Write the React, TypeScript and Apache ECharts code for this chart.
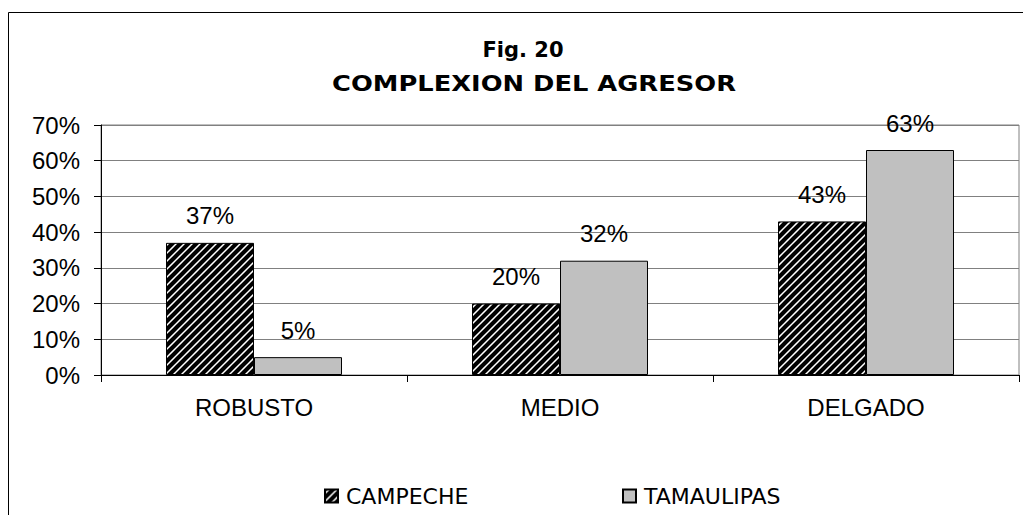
import React, { useEffect, useRef } from "react";
import * as echarts from "echarts";

const categories = ["ROBUSTO", "MEDIO", "DELGADO"];
const campeche = [37, 20, 43];
const tamaulipas = [5, 32, 63];
const seriesNames = ["CAMPECHE", "TAMAULIPAS"];
const titleLines = ["Fig. 20", "COMPLEXION DEL AGRESOR"];

const hatchSvg =
  "data:image/svg+xml;charset=utf-8," +
  encodeURIComponent(
    "<svg xmlns='http://www.w3.org/2000/svg' width='8' height='8'>" +
      "<rect width='8' height='8' fill='white'/>" +
      "<path d='M-2,2 L2,-2 M0,8 L8,0 M6,10 L10,6' stroke='black' stroke-width='4.1'/>" +
      "</svg>"
  );

export default function App() {
  const ref = useRef<HTMLDivElement>(null);
  useEffect(() => {
    if (!ref.current) return;
    const chart = echarts.init(ref.current, null, { renderer: "svg" });
    const hatch: any = {
      image: hatchSvg,
      repeat: "repeat",
      imageWidth: 8,
      imageHeight: 8,
    };
    const labelStyle = {
      show: true,
      position: "top" as const,
      distance: 15,
      formatter: "{c}%",
      color: "#000",
      fontSize: 24,
      fontFamily: "Liberation Sans",
    };
    const legendBase = {
      orient: "horizontal" as const,
      top: 480,
      icon: "rect",
      itemWidth: 13,
      itemHeight: 13,
      itemGap: 0,
      selectedMode: false,
      textStyle: {
        color: "#000",
        fontSize: 22,
        fontFamily: "DejaVu Sans",
        padding: [0, 0, 0, 3],
      },
    };
    chart.setOption({
      animation: false,
      backgroundColor: "#fff",
      grid: {
        left: 101,
        right: 4,
        top: 125,
        bottom: 140,
        show: true,
        borderColor: "#808080",
        borderWidth: 1,
        containLabel: false,
      },
      legend: [
        { ...legendBase, left: 319, data: [seriesNames[0]] },
        { ...legendBase, left: 617, data: [seriesNames[1]] },
      ],
      xAxis: {
        type: "category",
        data: categories,
        axisLine: { lineStyle: { color: "#000", width: 1 } },
        axisTick: { show: true, length: 7, lineStyle: { color: "#000" } },
        axisLabel: {
          color: "#000",
          fontSize: 24,
          fontFamily: "Liberation Sans",
          margin: 20,
        },
        splitLine: { show: false },
      },
      yAxis: {
        type: "value",
        min: 0,
        max: 70,
        interval: 10,
        axisLine: { show: true, lineStyle: { color: "#000", width: 1 } },
        axisTick: { show: true, length: 7, lineStyle: { color: "#000" } },
        axisLabel: {
          color: "#000",
          fontSize: 24,
          fontFamily: "Liberation Sans",
          margin: 21,
          formatter: "{value}%",
        },
        splitLine: { show: true, lineStyle: { color: "#808080", width: 1 } },
      },
      series: [
        {
          name: seriesNames[0],
          type: "bar",
          data: campeche,
          barWidth: 88,
          barGap: "0%",
          itemStyle: { color: hatch, borderColor: "#000", borderWidth: 1 },
          label: labelStyle,
        },
        {
          name: seriesNames[1],
          type: "bar",
          data: tamaulipas,
          barWidth: 88,
          barGap: "0%",
          itemStyle: { color: "#c0c0c0", borderColor: "#000", borderWidth: 1 },
          label: labelStyle,
        },
      ],
      graphic: [
        {
          type: "rect",
          silent: true,
          shape: { x: 8.5, y: 12.5, width: 1040, height: 530 },
          style: { fill: "none", stroke: "#000", lineWidth: 1 },
          z: -1,
        },
        {
          type: "text",
          x: 523,
          y: 49.5,
          style: {
            x: 0,
            y: 0,
            text: titleLines[0],
            fill: "#000",
            font: "bold 21px 'DejaVu Sans'",
            textAlign: "center",
            textVerticalAlign: "middle",
          },
        },
        {
          type: "text",
          x: 534,
          y: 83.5,
          scaleX: 1.17,
          style: {
            x: 0,
            y: 0,
            text: titleLines[1],
            fill: "#000",
            font: "bold 22px 'DejaVu Sans'",
            textAlign: "center",
            textVerticalAlign: "middle",
          },
        },
      ],
    });
    return () => chart.dispose();
  }, []);
  return (
    <div
      ref={ref}
      style={{ position: "absolute", left: 0, top: 0, width: 1023, height: 515 }}
    />
  );
}
